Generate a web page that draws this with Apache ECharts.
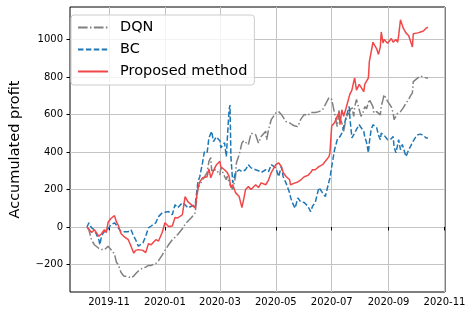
<!DOCTYPE html>
<html><head><meta charset="utf-8">
<script src="https://cdn.jsdelivr.net/npm/echarts@6/dist/echarts.min.js"></script>
<style>html,body{margin:0;padding:0;background:#fff}#c{width:474px;height:318px}</style>
</head><body><div id="c"></div>
<script>
const dates = [
'2019-10-08','2019-10-10','2019-10-13','2019-10-16','2019-10-21','2019-10-22','2019-10-24','2019-10-27','2019-10-29','2019-10-31',
'2019-11-03','2019-11-07','2019-11-09','2019-11-11','2019-11-14','2019-11-17','2019-11-22','2019-11-25','2019-11-28','2019-11-30',
'2019-12-03','2019-12-08','2019-12-11','2019-12-14','2019-12-17','2019-12-22','2019-12-25','2019-12-29','2020-01-01','2020-01-05',
'2020-01-09','2020-01-12','2020-01-15','2020-01-20','2020-01-23','2020-01-26','2020-01-30','2020-02-03','2020-02-04','2020-02-06',
'2020-02-08','2020-02-11','2020-02-13','2020-02-16','2020-02-18','2020-02-20','2020-02-21','2020-02-23','2020-02-26','2020-03-01',
'2020-03-02','2020-03-06','2020-03-08','2020-03-09','2020-03-11','2020-03-12','2020-03-13','2020-03-15','2020-03-18','2020-03-19',
'2020-03-22','2020-03-25','2020-03-27','2020-03-29','2020-04-01','2020-04-04','2020-04-09','2020-04-12','2020-04-15','2020-04-20',
'2020-04-21','2020-04-23','2020-04-26','2020-05-01','2020-05-04','2020-05-07','2020-05-09','2020-05-12','2020-05-16','2020-05-17',
'2020-05-19','2020-05-22','2020-05-25','2020-05-28','2020-06-01','2020-06-05','2020-06-08','2020-06-10','2020-06-13','2020-06-17',
'2020-06-21','2020-06-24','2020-06-28','2020-06-29','2020-07-01','2020-07-04','2020-07-07','2020-07-09','2020-07-10','2020-07-12',
'2020-07-14','2020-07-17','2020-07-20','2020-07-21','2020-07-23','2020-07-25','2020-07-26','2020-07-28','2020-07-31','2020-08-02',
'2020-08-05','2020-08-06','2020-08-08','2020-08-10','2020-08-11','2020-08-13','2020-08-15','2020-08-16','2020-08-19','2020-08-21',
'2020-08-23','2020-08-24','2020-08-26','2020-08-27','2020-08-29','2020-08-31','2020-09-04','2020-09-06','2020-09-07','2020-09-09',
'2020-09-11','2020-09-12','2020-09-14','2020-09-16','2020-09-17','2020-09-20','2020-09-23','2020-09-25','2020-09-27','2020-09-28',
'2020-09-30','2020-10-03','2020-10-06','2020-10-09','2020-10-12','2020-10-14'
];
const proposed = [
0,-10,-30,-15,-50,-55,-35,-15,-30,25,
45,60,28,10,-35,-50,-68,-103,-140,-125,
-121,-125,-137,-90,-95,-68,-75,-30,22,2,
5,50,48,65,162,135,118,102,100,210,
240,262,262,268,310,262,270,300,330,350,
320,305,300,290,270,240,210,225,183,175,
162,103,150,200,215,200,225,210,235,225,
230,250,290,332,342,322,290,270,252,225,
230,235,240,250,268,275,290,305,305,322,
332,350,375,395,540,555,590,610,545,625,
590,640,695,710,730,775,795,730,760,770,
722,760,755,795,880,890,985,980,950,920,
960,1040,980,1000,1010,980,1005,985,990,1000,
985,1020,1105,1075,1060,1035,1020,990,960,1030,
1032,1035,1040,1045,1060,1065
];
const bc = [
0,22,-5,-15,-70,-95,-45,-25,-20,-10,
12,22,10,2,-25,-25,-25,-15,-50,-68,
-103,-85,-50,-5,5,22,55,75,78,82,
65,118,102,130,118,102,110,118,120,240,
268,342,400,395,475,480,510,455,480,460,
422,450,375,465,625,650,375,235,290,300,
305,295,300,305,332,315,305,300,290,305,
300,295,332,315,268,322,268,235,182,160,
130,100,155,135,130,110,82,110,130,210,
182,162,242,260,322,410,465,475,482,500,
535,590,642,572,475,480,500,520,545,530,
510,480,450,395,450,520,545,540,530,490,
465,500,500,490,480,465,470,482,428,395,
440,465,412,440,450,375,412,430,450,460,
475,492,495,487,475,475
];
const dqn = [
0,-15,-70,-95,-115,-120,-120,-122,-130,-103,
-120,-145,-188,-200,-242,-262,-265,-272,-262,-250,
-235,-218,-215,-205,-205,-195,-180,-150,-125,-95,
-68,-55,-40,-10,15,30,50,75,80,205,
215,252,265,290,350,370,300,300,305,278,
316,270,252,270,240,225,215,200,268,342,
385,448,460,465,438,500,492,448,482,510,
465,518,572,608,615,600,590,562,555,550,
545,538,535,572,600,595,610,600,610,615,
625,652,690,695,680,608,535,625,580,555,
510,590,608,620,642,590,640,680,625,590,
620,642,630,640,680,670,642,608,615,625,
598,642,680,705,700,670,640,608,572,590,
608,600,615,625,635,660,680,700,715,775,
785,795,805,800,795,795
];
const xTickLabels = ['2019-11','2020-01','2020-03','2020-05','2020-07','2020-09','2020-11'];
const yTicks = [-200,0,200,400,600,800,1000];

const chart = echarts.init(document.getElementById('c'), null, {renderer:'canvas'});
const ts = s => echarts.time.parse(s).getTime();
const pair = arr => dates.map((d,i)=>[ts(d), arr[i]]);
const xTickValues = xTickLabels.map(s => ts(s + '-01'));
const font = 'DejaVu Sans';
chart.setOption({
  animation: false,
  textStyle: {fontFamily: font},
  grid: {left: 63, right: 29, top: 7, bottom: 26, show: true, borderColor: '#000', borderWidth: 1, backgroundColor: 'transparent'},
  legend: {
    orient: 'vertical', left: 71, top: 15,
    data: ['DQN','BC','Proposed method'],
    itemWidth: 30, itemHeight: 14, itemGap: 7,
    padding: [5, 7, 6, 6],
    borderColor: '#cccccc', borderWidth: 1, borderRadius: 3,
    backgroundColor: 'rgba(255,255,255,0.8)',
    itemStyle: {color: 'rgba(0,0,0,0)', borderWidth: 0, opacity: 0},
    textStyle: {fontFamily: font, fontSize: 14.5, color: '#000', padding: [0,0,0,7]}
  },
  xAxis: {
    type: 'value',
    min: ts('2019-09-19T10:00:00'),
    max: ts('2020-11-01T14:00:00'),
    axisLine: {show: false},
    axisTick: {show: true, length: 3.5, inside: false, lineStyle: {color: '#000', width: 1}, customValues: xTickValues},
    axisLabel: {customValues: xTickValues, color: '#000', fontSize: 10, fontFamily: font, margin: 5,
      formatter: v => echarts.time.format(v, '{yyyy}-{MM}', false)},
    splitLine: {show: true, lineStyle: {color: '#c4c4c4', width: 1}}
  },
  yAxis: {
    type: 'value', min: -347, max: 1173,
    name: 'Accumulated profit', nameLocation: 'middle', nameGap: 47,
    nameTextStyle: {fontFamily: font, fontSize: 14.5, color: '#000'},
    axisLine: {show: false},
    axisTick: {show: true, length: 3.5, lineStyle: {color: '#000', width: 1}, customValues: yTicks},
    axisLabel: {customValues: yTicks, color: '#000', fontSize: 10, fontFamily: font, margin: 7,
      formatter: v => String(v).replace('-', '\u2212')},
    splitLine: {show: true, lineStyle: {color: '#c4c4c4', width: 1}}
  },
  series: [
    {name: 'DQN', type: 'line', data: pair(dqn), showSymbol: false, symbol: 'none',
     lineStyle: {color: '#808080', width: 1.5, type: [9.6, 2.4, 1.5, 2.4]}, itemStyle: {color: '#808080'}},
    {name: 'BC', type: 'line', data: pair(bc), showSymbol: false, symbol: 'none',
     lineStyle: {color: '#1f77b4', width: 1.5, type: [5.5, 2.4]}, itemStyle: {color: '#1f77b4'}},
    {name: 'Proposed method', type: 'line', data: pair(proposed), showSymbol: false, symbol: 'none',
     lineStyle: {color: '#f04848', width: 1.5}, itemStyle: {color: '#f04848'}}
  ]
});
</script></body></html>
